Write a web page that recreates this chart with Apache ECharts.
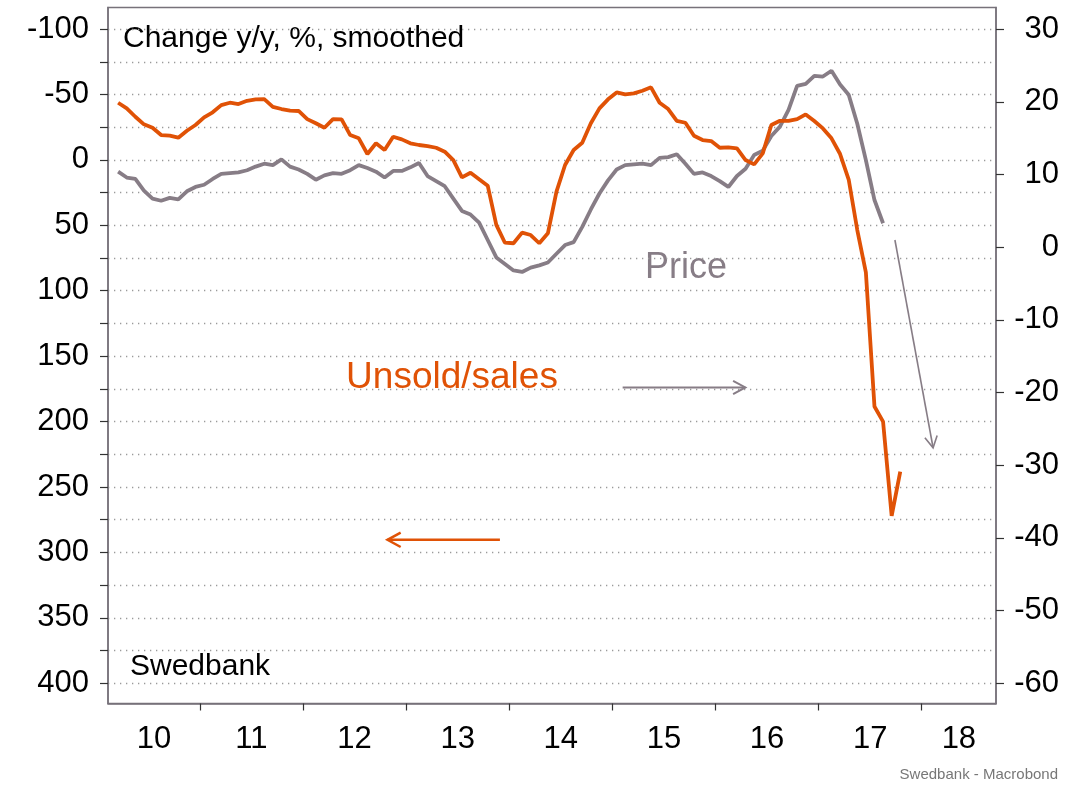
<!DOCTYPE html>
<html>
<head>
<meta charset="utf-8">
<script src="https://cdn.jsdelivr.net/npm/echarts@6/dist/echarts.min.js"></script>
<style>
  html, body { margin: 0; padding: 0; background: #fff; }
  #chart { width: 1089px; height: 785px; }
</style>
</head>
<body>
<div id="chart"></div>
<script>
// monthly data, first point March 2010
var startYear = 2010;
var startMonth = 3;

// Unsold/sales, left axis (inverted)
var unsoldValues = [
  -43.7, -39.4, -33.0, -27.2, -24.6, -19.0, -18.5, -17.0, -22.3, -26.7,
  -32.5, -36.4, -41.9, -43.7, -42.7, -45.2, -46.3, -46.5, -40.6, -38.9,
  -37.6, -37.4, -31.2, -28.0, -24.6, -31.2, -31.0, -19.0, -16.5, -4.5,
  -12.7, -7.6, -17.7, -15.7, -12.7, -11.4, -10.6, -9.3, -6.3, 0.1,
  13.3, 9.8, 14.8, 19.7, 49.7, 63.3, 63.7, 55.6, 57.4, 63.7,
  56.1, 24.3, 3.9, -7.6, -13.1, -28.0, -39.4, -46.3, -51.6, -50.1,
  -50.9, -52.9, -55.5, -43.7, -38.9, -29.9, -28.4, -18.5, -15.2, -14.4,
  -9.3, -9.6, -8.9, 0.1, 3.4, -5.0, -26.7, -29.9, -29.9, -31.2,
  -34.8, -29.7, -24.1, -16.5, -4.5, 15.0, 53.6, 86.0, 188.5, 200.0,
  272.0, 238.2
];

// Price, right axis
var priceValues = [
  10.4, 9.6, 9.4, 7.8, 6.7, 6.4, 6.8, 6.6, 7.7, 8.3,
  8.6, 9.4, 10.1, 10.2, 10.3, 10.6, 11.1, 11.5, 11.3, 12.1,
  11.1, 10.7, 10.1, 9.3, 9.9, 10.2, 10.1, 10.6, 11.3, 10.9,
  10.4, 9.6, 10.5, 10.5, 11.0, 11.6, 9.8, 9.1, 8.4, 6.7,
  5.0, 4.5, 3.4, 1.0, -1.4, -2.3, -3.2, -3.4, -2.8, -2.5,
  -2.1, -0.9, 0.3, 0.7, 2.8, 5.2, 7.4, 9.2, 10.7, 11.3,
  11.4, 11.5, 11.3, 12.3, 12.4, 12.8, 11.5, 10.1, 10.3, 9.8,
  9.1, 8.3, 9.8, 10.8, 12.7, 13.3, 15.3, 16.6, 18.9, 22.2,
  22.5, 23.6, 23.5, 24.3, 22.4, 21.0, 17.0, 12.0, 6.5, 3.3
];

// ticks
var yearTicks = [2011, 2012, 2013, 2014, 2015, 2016, 2017, 2018];
var leftTicks = [-100, -75, -50, -25, 0, 25, 50, 75, 100, 125, 150, 175, 200, 225, 250, 275, 300, 325, 350, 375, 400];
var leftLabels = [-100, -50, 0, 50, 100, 150, 200, 250, 300, 350, 400];
var rightTicks = [30, 20, 10, 0, -10, -20, -30, -40, -50, -60];

var xMin = 2010.11, xMax = 2018.72;
var orange = '#e05206';
var gray = '#877d86';
var font = 'Liberation Sans, Arial, sans-serif';

// month index -> decimal year (mid month)
function toYear(i) {
  return startYear + (startMonth - 1 + i + 0.5) / 12;
}
function toSeries(values) {
  var out = [];
  for (var i = 0; i < values.length; i++) out.push([toYear(i), values[i]]);
  return out;
}

// year labels sit in the middle of the visible part of each year
var yearLabelPos = [];
for (var y = 2010; y <= 2018; y++) {
  var a = Math.max(y, xMin), b = Math.min(y + 1, xMax);
  yearLabelPos.push((a + b) / 2);
}

function renderArrow(params, api) {
  var p1 = api.coord([api.value(0), api.value(1)]);
  var p2 = api.coord([api.value(2), api.value(3)]);
  var ang = Math.atan2(p2[1] - p1[1], p2[0] - p1[0]);
  var w = api.value(4);
  var h = api.value(5);
  var s = 0.5;
  var a1 = [p2[0] - h * Math.cos(ang - s), p2[1] - h * Math.sin(ang - s)];
  var a2 = [p2[0] - h * Math.cos(ang + s), p2[1] - h * Math.sin(ang + s)];
  var c = api.visual('color');
  return {
    type: 'group',
    children: [
      { type: 'line', shape: { x1: p1[0], y1: p1[1], x2: p2[0], y2: p2[1] }, style: { stroke: c, lineWidth: w } },
      { type: 'polyline', shape: { points: [a1, p2, a2] }, style: { stroke: c, lineWidth: w, fill: null } }
    ]
  };
}

var myChart = echarts.init(document.getElementById('chart'));

var option = {
  backgroundColor: '#fff',
  animation: false,
  grid: {
    left: 108, right: 93, top: 7.5, bottom: 81.5,
    show: true, borderColor: '#77727a', borderWidth: 1.5, backgroundColor: 'transparent'
  },
  xAxis: {
    type: 'value',
    min: xMin,
    max: xMax,
    axisLine: { show: true, onZero: false, lineStyle: { color: '#77727a', width: 1.5 } },
    axisTick: { show: true, customValues: yearTicks, length: 7, lineStyle: { color: '#333', width: 1.2 } },
    axisLabel: {
      customValues: yearLabelPos,
      formatter: function (v) { return String(Math.floor(v)).slice(2); },
      fontSize: 31, fontFamily: font, color: '#000', margin: 20
    },
    splitLine: { show: false }
  },
  yAxis: [
    {
      type: 'value',
      inverse: true,
      min: -116.5,
      max: 415.5,
      position: 'left',
      axisLine: { show: true, lineStyle: { color: '#77727a', width: 1.5 } },
      axisTick: { show: true, customValues: leftTicks, length: 8, lineStyle: { color: '#333', width: 1.2 } },
      axisLabel: { customValues: leftLabels, fontSize: 31, fontFamily: font, color: '#000', margin: 19 },
      splitLine: { show: true, lineStyle: { color: '#9a9a9a', width: 1.3, type: [1.3, 4.7] } }
    },
    {
      type: 'value',
      min: -62.8,
      max: 33,
      position: 'right',
      axisLine: { show: true, lineStyle: { color: '#77727a', width: 1.5 } },
      axisTick: { show: true, customValues: rightTicks, length: 8, lineStyle: { color: '#333', width: 1.2 } },
      axisLabel: { customValues: rightTicks, fontSize: 31, fontFamily: font, color: '#000', margin: 63, align: 'right' },
      splitLine: { show: false }
    }
  ],
  series: [
    {
      name: 'Price',
      type: 'line',
      yAxisIndex: 1,
      data: toSeries(priceValues),
      showSymbol: false,
      lineStyle: { color: gray, width: 3.8 },
      itemStyle: { color: gray }
    },
    {
      name: 'Unsold/sales',
      type: 'line',
      yAxisIndex: 0,
      data: toSeries(unsoldValues),
      showSymbol: false,
      lineStyle: { color: orange, width: 3.8 },
      itemStyle: { color: orange }
    },
    {
      type: 'custom',
      yAxisIndex: 0,
      renderItem: renderArrow,
      itemStyle: { color: orange },
      encode: { x: [0, 2], y: [1, 3] },
      data: [[2013.91, 290.4, 2012.82, 290.4, 2.5, 15]],
      silent: true
    },
    {
      type: 'custom',
      yAxisIndex: 1,
      renderItem: renderArrow,
      itemStyle: { color: gray },
      encode: { x: [0, 2], y: [1, 3] },
      data: [
        [2015.10, -19.3, 2016.29, -19.3, 2, 14],
        [2017.74, 1.0, 2018.11, -27.6, 1.6, 13]
      ],
      silent: true
    }
  ],
  graphic: [
    { type: 'text', x: 123, y: 39, style: { text: 'Change y/y, %, smoothed', fontSize: 30, fontFamily: font, fill: '#000', verticalAlign: 'middle' } },
    { type: 'text', x: 130, y: 667, style: { text: 'Swedbank', fontSize: 30, fontFamily: font, fill: '#000', verticalAlign: 'middle' } },
    { type: 'text', x: 686, y: 268, style: { text: 'Price', fontSize: 36, fontFamily: font, fill: gray, align: 'center', verticalAlign: 'middle' } },
    { type: 'text', x: 452, y: 378, style: { text: 'Unsold/sales', fontSize: 37, fontFamily: font, fill: orange, align: 'center', verticalAlign: 'middle' } },
    { type: 'text', right: 31, y: 775, style: { text: 'Swedbank - Macrobond', fontSize: 15, fontFamily: font, fill: '#777', verticalAlign: 'middle' } }
  ]
};

myChart.setOption(option);
</script>
</body>
</html>
